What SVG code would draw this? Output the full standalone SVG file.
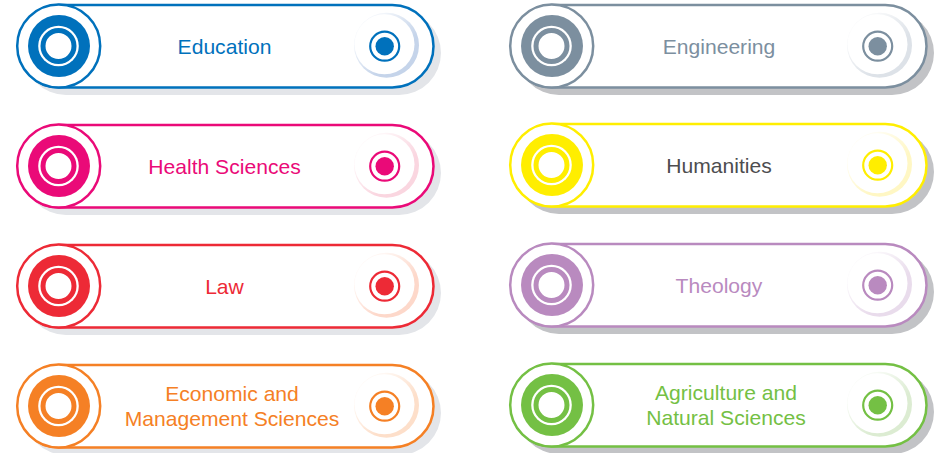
<svg xmlns="http://www.w3.org/2000/svg" width="945" height="453" viewBox="0 0 945 453">
<style>
text{font-family:"Liberation Sans",Arial,sans-serif;font-size:21.100px;text-anchor:middle;fill:currentColor}
.blue{color:#0071bc;--h:#c5d4ea}.pink{color:#ea0a78;--h:#fad6e0}.red{color:#ed2a36;--h:#fdd8ca}.orange{color:#f58025;--h:#fddfca}
.grey{color:#7c8f9f;--h:#dde2e8}.yellow{color:#ffee00;--h:#fff7c4}.purple{color:#b98abf;--h:#e9dcec}.green{color:#74c044;--h:#dcecd2}
.s1{fill:#e3e5e9}.s2{fill:#c2c3c6}
</style>
<defs>
<linearGradient id="fade" x1="0.1" y1="0.1" x2="0.85" y2="0.85"><stop offset="0.2" stop-color="#333"/><stop offset="0.7" stop-color="#fff"/></linearGradient>
<mask id="halo" maskUnits="userSpaceOnUse" x="350" y="8" width="75" height="75"><rect x="350" y="8" width="75" height="75" fill="url(#fade)"/></mask>
<g id="badge">
<rect x="18" y="5" width="415.500" height="82.500" rx="41.250" fill="#fff" stroke="currentColor" stroke-width="2.500"/>
<circle cx="386.500" cy="45.300" r="32.500" style="fill:var(--h)" mask="url(#halo)"/>
<circle cx="384.500" cy="44.200" r="30" fill="#fff"/>
<circle cx="58.700" cy="46" r="41.500" fill="#fff" stroke="currentColor" stroke-width="2.500"/>
<circle cx="59" cy="46" r="31" fill="currentColor"/>
<circle cx="58.500" cy="46" r="20.300" fill="#fff"/>
<circle cx="58.500" cy="46" r="15.500" fill="#fff" stroke="currentColor" stroke-width="5"/>
<circle cx="384.700" cy="46.200" r="14.500" fill="#fff" stroke="currentColor" stroke-width="2.200"/>
<circle cx="384.700" cy="46.200" r="9.200" fill="currentColor"/>
</g>
<rect id="sh" x="24" y="11" width="417" height="84" rx="42"/>
</defs>
<g id="education" class="blue"><use href="#sh" class="s1"/><use href="#badge"/><text x="224.500" y="54">Education</text></g>
<g id="health-sciences" class="pink" transform="translate(0 120)"><use href="#sh" class="s1"/><use href="#badge"/><text x="224.500" y="54">Health Sciences</text></g>
<g id="law" class="red" transform="translate(0 240)"><use href="#sh" class="s1"/><use href="#badge"/><text x="224.500" y="54">Law</text></g>
<g id="economic" class="orange" transform="translate(0 360)"><use href="#sh" class="s1"/><use href="#badge"/><text x="232" y="41">Economic and</text><text x="232" y="66">Management Sciences</text></g>
<g id="engineering" class="grey" transform="translate(493 0)"><use href="#sh" class="s2"/><use href="#badge"/><text x="226" y="54">Engineering</text></g>
<g id="humanities" class="yellow" transform="translate(493 119)"><use href="#sh" class="s2"/><use href="#badge"/><text x="226" y="54" style="fill:#4d4d4f">Humanities</text></g>
<g id="theology" class="purple" transform="translate(493 239)"><use href="#sh" class="s2"/><use href="#badge"/><text x="226" y="54">Theology</text></g>
<g id="agriculture" class="green" transform="translate(493 359)"><use href="#sh" class="s2"/><use href="#badge"/><text x="233" y="41">Agriculture and</text><text x="233" y="66">Natural Sciences</text></g>
</svg>
